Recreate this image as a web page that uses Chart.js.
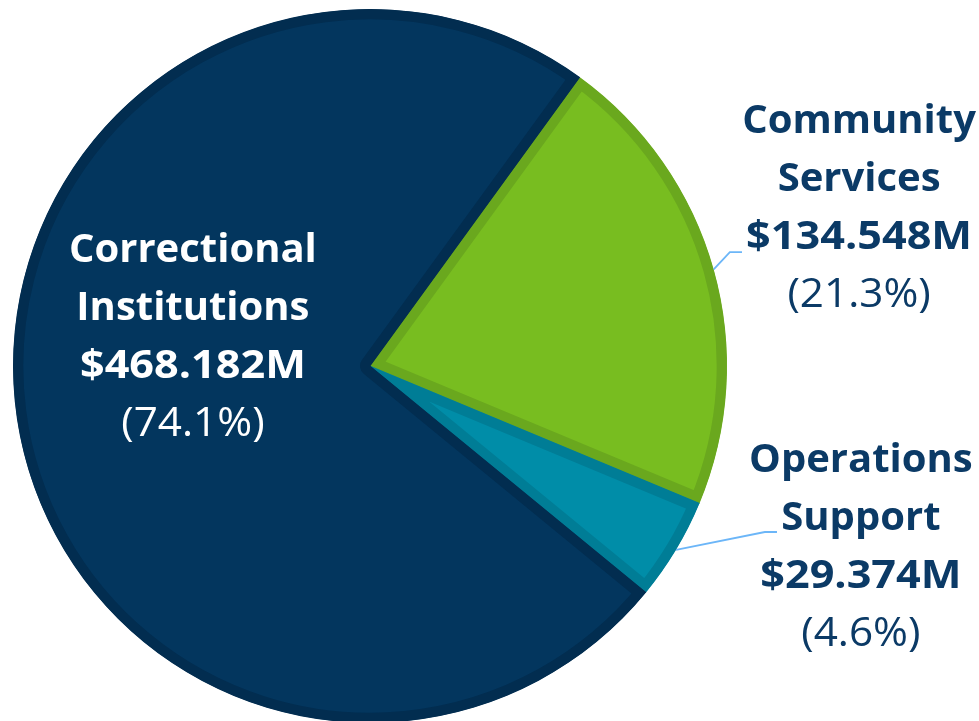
<!DOCTYPE html>
<html><head><meta charset="utf-8">
<script src="https://cdn.jsdelivr.net/npm/chart.js@4.4.1/dist/chart.umd.min.js"></script>
<style>html,body{margin:0;padding:0;background:#fff;overflow:hidden}
#wrap{width:979px;height:725px;position:relative}</style></head>
<body><div id="wrap"><canvas id="c"></canvas></div>
<script>
const categories = ['Community Services', 'Operations Support', 'Correctional Institutions'];
const nameLines = [['Community', 'Services'], ['Operations', 'Support'], ['Correctional', 'Institutions']];
const amounts = [134.548, 29.374, 468.182]; // $ millions
const amountLabels = ['$134.548M', '$29.374M', '$468.182M'];
const percentLabels = ['(21.3%)', '(4.6%)', '(74.1%)'];
const fillColors = ['#78bd20', '#008da8', '#03365e'];
const borderColors = ['#6aa81e', '#007d96', '#022d50'];

// label placement relative to pie centre, in units of the radius
const placement = [
  { cx: 1.37, top: -0.653, color: '#0b3a66', leader: [1.008, -0.319, 0.034] },
  { cx: 1.375, top: 0.297, color: '#0b3a66', leader: [1.106, 0.465, 0.034] },
  { cx: -0.496, top: -0.291, color: '#ffffff', leader: null }
];

function stretchedText(ctx, t, x, y, sx) {
  ctx.save();
  ctx.translate(x, y);
  ctx.scale(sx, 1);
  ctx.fillText(t, 0, 0);
  ctx.restore();
}

const labelPlugin = {
  id: 'sliceLabels',
  afterDatasetsDraw(chart) {
    const ctx = chart.ctx;
    const meta = chart.getDatasetMeta(0);
    meta.data.forEach((arc, i) => {
      const p = placement[i];
      const r = arc.outerRadius, x0 = arc.x, y0 = arc.y;
      const lx = x0 + p.cx * r;
      const by = y0 + p.top * r;
      const lh = 58;
      ctx.save();
      if (p.leader) {
        const mid = (arc.startAngle + arc.endAngle) / 2;
        const sx = x0 + Math.cos(mid) * r, sy = y0 + Math.sin(mid) * r;
        const ex = x0 + p.leader[0] * r, ey = y0 + p.leader[1] * r;
        ctx.strokeStyle = '#6cb6f8';
        ctx.lineWidth = 1.8;
        ctx.beginPath();
        ctx.moveTo(sx, sy);
        ctx.lineTo(ex, ey);
        ctx.lineTo(ex + p.leader[2] * r, ey);
        ctx.stroke();
      }
      ctx.fillStyle = p.color;
      ctx.textAlign = 'center';
      ctx.textBaseline = 'alphabetic';
      ctx.font = 'bold 40px "Open Sans"';
      ctx.fillText(nameLines[i][0], lx, by);
      ctx.fillText(nameLines[i][1], lx, by + lh);
      stretchedText(ctx, amountLabels[i], lx, by + 2 * lh, 1.08);
      ctx.font = '41px "Open Sans"';
      stretchedText(ctx, percentLabels[i], lx, by + 3 * lh, 1.03);
      ctx.restore();
    });
  }
};

new Chart(document.getElementById('c'), {
  type: 'pie',
  data: {
    labels: categories,
    datasets: [{
      data: amounts,
      backgroundColor: fillColors,
      borderColor: borderColors,
      borderWidth: 10,
      borderAlign: 'inner',
      hoverOffset: 0
    }]
  },
  options: {
    responsive: true,
    maintainAspectRatio: false,
    animation: false,
    rotation: 36,
    layout: { padding: { left: 13, right: 252, top: 9, bottom: 2 } },
    plugins: { legend: { display: false }, tooltip: { enabled: false } },
    events: []
  },
  plugins: [labelPlugin]
});
</script>
</body></html>
